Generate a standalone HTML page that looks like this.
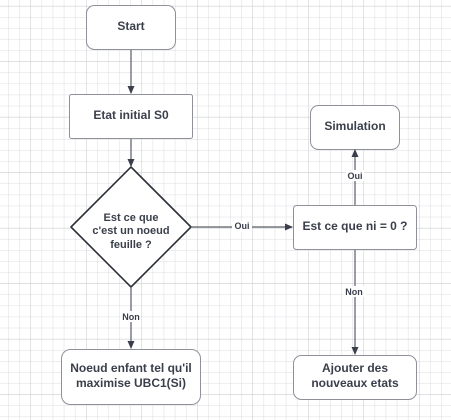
<!DOCTYPE html>
<html><head><meta charset="utf-8"><style>
html,body{margin:0;padding:0;background:#fff;}
svg{display:block;}
text{font-family:"Liberation Sans",sans-serif;fill:#3a3f4b;font-weight:bold;text-anchor:middle;}
</style></head><body>
<svg width="451" height="420" viewBox="0 0 451 420" xmlns="http://www.w3.org/2000/svg">
<defs>
<pattern id="g" x="8.3" y="5.9" width="11.1" height="11.1" patternUnits="userSpaceOnUse">
<path d="M0 0H11.1M0 0V11.1" stroke="#dcdde0" stroke-width="1" fill="none"/>
</pattern>
<pattern id="G" x="30.5" y="5.9" width="55.5" height="55.5" patternUnits="userSpaceOnUse">
<path d="M0 0H55.5M0 0V55.5" stroke="#c9cacd" stroke-width="1" fill="none"/>
</pattern>
<marker id="a" markerWidth="8" markerHeight="8" refX="7" refY="4" orient="auto" markerUnits="userSpaceOnUse">
<path d="M0,0.5 L8,4 L0,7.5Z" fill="#3a3f4b"/>
</marker>
</defs>
<rect width="451" height="420" fill="url(#g)"/>
<rect width="451" height="420" fill="url(#G)"/>
<g stroke="#8e9199" stroke-width="1" fill="#fff">
<rect x="86.5" y="5.5" width="89" height="44" rx="8"/>
<rect x="69.5" y="94.5" width="123" height="44" rx="2"/>
<path d="M131 167 L191 227 L131 287 L71 227 Z" stroke="#2e323b" stroke-width="1.6" stroke-linejoin="round"/>
<rect x="61.5" y="349.5" width="139" height="55" rx="9"/>
<rect x="293.5" y="205.5" width="123" height="44" rx="3"/>
<rect x="310.5" y="105.5" width="89" height="44" rx="8"/>
<rect x="293.5" y="355.5" width="123" height="44" rx="8"/>
</g>
<g stroke="#5a5e68" stroke-width="1.2" fill="none">
<line x1="131" y1="50" x2="131" y2="93" marker-end="url(#a)"/>
<line x1="131" y1="139" x2="131" y2="166" marker-end="url(#a)"/>
<line x1="131" y1="288" x2="131" y2="348" marker-end="url(#a)"/>
<line x1="192" y1="227" x2="292" y2="227" marker-end="url(#a)"/>
<line x1="355" y1="205" x2="355" y2="150" marker-end="url(#a)"/>
<line x1="355" y1="250" x2="355" y2="354" marker-end="url(#a)"/>
</g>
<g font-size="9">
<rect x="121" y="311" width="20" height="11" fill="#fff"/><text x="131" y="320">Non</text>
<rect x="232" y="221" width="20" height="11" fill="#fff"/><text x="242" y="229">Oui</text>
<rect x="346" y="170" width="18" height="11" fill="#fff"/><text x="355" y="179">Oui</text>
<rect x="344" y="286" width="22" height="11" fill="#fff"/><text x="354" y="295">Non</text>
</g>
<g font-size="12">
<text x="131" y="30">Start</text>
<text x="131" y="119">Etat initial S0</text>
<text x="131" y="372">Noeud enfant tel qu'il</text>
<text x="131" y="387">maximise UBC1(Si)</text>
<text x="355" y="230">Est ce que ni = 0 ?</text>
<text x="355" y="130">Simulation</text>
<text x="355" y="372">Ajouter des</text>
<text x="355" y="387">nouveaux etats</text>
</g>
<g font-size="11" font-weight="normal">
<text x="131" y="221">Est ce que</text>
<text x="131" y="234">c'est un noeud</text>
<text x="131" y="248">feuille ?</text>
</g>
</svg>
</body></html>
